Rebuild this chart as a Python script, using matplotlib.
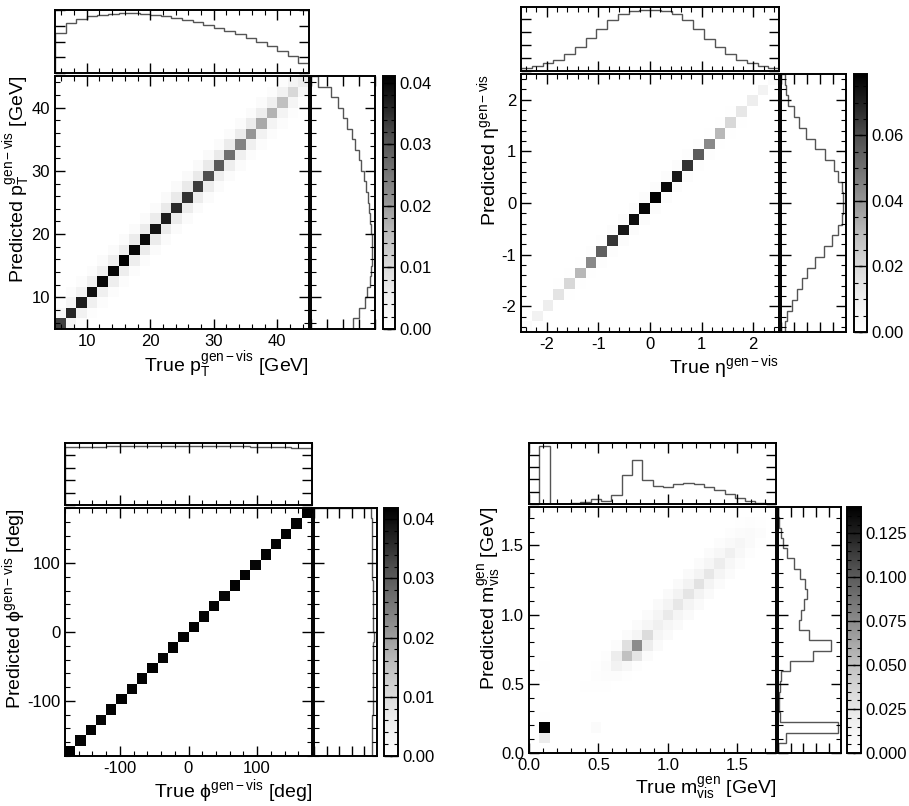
import numpy as np
import matplotlib
matplotlib.use('Agg')
import matplotlib.pyplot as plt
from matplotlib.ticker import AutoMinorLocator, MultipleLocator, MaxNLocator

plt.rcParams['font.family'] = ['Liberation Sans', 'DejaVu Sans']
plt.rcParams['mathtext.fontset'] = 'custom'
plt.rcParams['mathtext.rm'] = 'Liberation Sans'
plt.rcParams['mathtext.it'] = 'Liberation Sans'
plt.rcParams['mathtext.bf'] = 'Liberation Sans:bold'
plt.rcParams['axes.unicode_minus'] = False
plt.rcParams['axes.linewidth'] = 1.4

# ---------------- data ----------------
pt_edges = np.linspace(5, 45, 25)
eta_edges = np.linspace(-2.5, 2.5, 25)
phi_edges = np.linspace(-180, 180, 25)
m_edges = np.linspace(0, 1.777, 25)

# pT: 2D histogram bands (diagonal and neighbours)
pt_diag = [0.033, 0.0357, 0.0372, 0.0388, 0.0399, 0.0403, 0.0411, 0.0399, 0.0395, 0.0384, 0.037, 0.0354,
           0.0345, 0.0333, 0.0312, 0.0296, 0.0263, 0.0234, 0.0206, 0.0181, 0.0168, 0.0148, 0.0105, 0.0058]
pt_up1 = [0.003, 0.004, 0.0045, 0.005, 0.005, 0.0055, 0.0055, 0.006, 0.006, 0.006, 0.0065, 0.0065,
          0.0065, 0.0065, 0.0065, 0.0065, 0.006, 0.006, 0.006, 0.0055, 0.005, 0.0045, 0.004]
pt_dn1 = [0.004, 0.0045, 0.005, 0.005, 0.0055, 0.0055, 0.0055, 0.006, 0.006, 0.006, 0.006, 0.006,
          0.006, 0.006, 0.0055, 0.0055, 0.005, 0.005, 0.0045, 0.004, 0.004, 0.0035, 0.003]
pt_up2 = [0.0008, 0.001, 0.0012, 0.0012, 0.0014, 0.0014, 0.0015, 0.0015, 0.0016, 0.0016, 0.0017,
          0.0017, 0.0017, 0.0017, 0.0017, 0.0016, 0.0016, 0.0015, 0.0015, 0.0014, 0.0012, 0.001]
pt_dn2 = [0.0008, 0.0009, 0.001, 0.001, 0.0011, 0.0012, 0.0012, 0.0013, 0.0013, 0.0014, 0.0014,
          0.0014, 0.0014, 0.0014, 0.0013, 0.0013, 0.0012, 0.0012, 0.0011, 0.001, 0.0009, 0.0008]
pt_true_hist = [0.642, 0.797, 0.866, 0.909, 0.930, 0.947, 0.957, 0.957, 0.947, 0.930, 0.909, 0.882,
                0.850, 0.807, 0.770, 0.722, 0.668, 0.615, 0.556, 0.497, 0.428, 0.358, 0.278, 0.160]
pt_pred_hist = [0.66, 0.755, 0.84, 0.88, 0.92, 0.945, 0.955, 0.955, 0.95, 0.94, 0.93, 0.91,
                0.89, 0.86, 0.83, 0.79, 0.755, 0.69, 0.635, 0.56, 0.5, 0.43, 0.31, 0.115]

# eta
eta_diag = [0.003, 0.0085, 0.011, 0.015, 0.02, 0.031, 0.043, 0.055, 0.065, 0.072, 0.075, 0.077,
            0.0787, 0.076, 0.072, 0.066, 0.056, 0.043, 0.031, 0.02, 0.014, 0.011, 0.008, 0.003]
eta_up1 = [0.0, 0.0004, 0.0005, 0.0008, 0.001, 0.0012, 0.0015, 0.0018, 0.002, 0.002, 0.002, 0.0022,
           0.002, 0.002, 0.002, 0.0018, 0.0015, 0.0012, 0.001, 0.0008, 0.0005, 0.0004, 0.0]
eta_dn1 = [0.0, 0.0004, 0.0005, 0.0008, 0.001, 0.0012, 0.0015, 0.0017, 0.0019, 0.002, 0.002, 0.002,
           0.002, 0.002, 0.0019, 0.0017, 0.0015, 0.0012, 0.001, 0.0008, 0.0005, 0.0004, 0.0]
eta_true_hist = [0.05, 0.077, 0.118, 0.164, 0.256, 0.374, 0.50, 0.65, 0.78, 0.87, 0.92, 0.933,
                 0.933, 0.92, 0.87, 0.785, 0.65, 0.495, 0.374, 0.267, 0.164, 0.118, 0.077, 0.05]
eta_pred_hist = [0.066, 0.09, 0.168, 0.245, 0.32, 0.398, 0.526, 0.653, 0.78, 0.88, 0.93, 0.949,
                 0.949, 0.93, 0.88, 0.806, 0.679, 0.526, 0.383, 0.27, 0.194, 0.107, 0.082, 0.056]

# phi
phi_diag = [0.0419, 0.0412, 0.0414, 0.0410, 0.0413, 0.0415, 0.0411, 0.0414, 0.0416, 0.0412, 0.0415, 0.0413,
            0.0416, 0.0412, 0.0414, 0.0411, 0.0415, 0.0413, 0.0410, 0.0414, 0.0412, 0.0415, 0.0411, 0.0417]
phi_up1 = [0.0003, 0.0003, 0.0002, 0.0003, 0.0003, 0.0002, 0.0003, 0.0003, 0.0002, 0.0003, 0.0003, 0.0002,
           0.0003, 0.0003, 0.0002, 0.0003, 0.0003, 0.0002, 0.0003, 0.0003, 0.0002, 0.0003, 0.0003]
phi_dn1 = [0.0002, 0.0003, 0.0003, 0.0002, 0.0003, 0.0003, 0.0002, 0.0003, 0.0003, 0.0002, 0.0003, 0.0003,
           0.0002, 0.0003, 0.0003, 0.0002, 0.0003, 0.0003, 0.0002, 0.0003, 0.0003, 0.0002, 0.0003]
phi_true_hist = [0.93, 0.935, 0.94, 0.94, 0.945, 0.945, 0.948, 0.95, 0.95, 0.952, 0.952, 0.952,
                 0.952, 0.95, 0.95, 0.948, 0.945, 0.945, 0.94, 0.94, 0.935, 0.93, 0.925, 0.915]
phi_pred_hist = [0.915, 0.92, 0.925, 0.925, 0.93, 0.93, 0.935, 0.935, 0.935, 0.94, 0.94, 0.952,
                 0.94, 0.935, 0.935, 0.93, 0.93, 0.925, 0.925, 0.92, 0.92, 0.915, 0.915, 0.912]

# visible mass
m_diag = [0.0, 0.02, 0.0, 0.0, 0.0, 0.001, 0.002, 0.004, 0.015, 0.05, 0.075, 0.033,
          0.018, 0.022, 0.025, 0.026, 0.028, 0.025, 0.02, 0.017, 0.011, 0.006, 0.002, 0.0]
m_up1 = [0.0, 0.14, 0.0, 0.0, 0.0, 0.002, 0.003, 0.005, 0.02, 0.03, 0.012, 0.011,
         0.012, 0.013, 0.014, 0.014, 0.013, 0.011, 0.009, 0.007, 0.005, 0.003, 0.001]
m_dn1 = [0.0, 0.0, 0.0, 0.0, 0.0, 0.0, 0.002, 0.004, 0.01, 0.026, 0.02, 0.012,
         0.011, 0.012, 0.013, 0.014, 0.013, 0.012, 0.01, 0.008, 0.006, 0.004, 0.001]
m_up2 = [0.0, 0.0, 0.0, 0.0, 0.0, 0.001, 0.002, 0.003, 0.004, 0.005, 0.005, 0.005,
         0.006, 0.006, 0.006, 0.006, 0.005, 0.005, 0.004, 0.003, 0.002, 0.001]
m_dn2 = [0.0, 0.0, 0.0, 0.0, 0.0, 0.0, 0.001, 0.002, 0.003, 0.005, 0.006, 0.006,
         0.006, 0.006, 0.006, 0.006, 0.005, 0.005, 0.004, 0.003, 0.002, 0.001]
m_extra_x = [1, 1, 1, 1, 1, 6]
m_extra_y = [3, 4, 7, 8, 9, 2]
m_extra_val = [0.002, 0.001, 0.002, 0.002, 0.001, 0.005]
m_true_hist = [0.0, 0.945, 0.0, 0.0, 0.01, 0.027, 0.077, 0.055, 0.15, 0.467, 0.72, 0.395,
               0.286, 0.27, 0.324, 0.346, 0.33, 0.28, 0.225, 0.165, 0.104, 0.05, 0.022, 0.005]
m_pred_hist = [0.0, 0.12, 0.946, 0.03, 0.02, 0.02, 0.03, 0.05, 0.19, 0.557, 0.84, 0.486,
               0.324, 0.36, 0.416, 0.46, 0.43, 0.35, 0.254, 0.146, 0.08, 0.04, 0.01, 0.0]

# ---------------- helpers ----------------
W, H = 909, 806


def box(x0, y0, x1, y1):
    return [x0 / W, 1 - y1 / H, (x1 - x0) / W, (y1 - y0) / H]


def band(diag, up1, dn1, up2=None, dn2=None):
    m = np.diag(diag) + np.diag(up1, 1) + np.diag(dn1, -1)
    if up2 is not None:
        m = m + np.diag(up2, 2) + np.diag(dn2, -2)
    return m


def ticks(ax):
    ax.tick_params(which='both', direction='in', top=True, right=True,
                   bottom=True, left=True, labelsize=12)
    ax.tick_params(which='major', length=7, width=1)
    ax.tick_params(which='minor', length=3.5, width=0.8)


def panel(fig, px, edges, h2d, top_vals, right_vals, major, xlabel, ylabel):
    x0, y0, x1, y1, rx1, ty0, cx0, cx1 = px
    ax = fig.add_axes(box(x0, y0, x1, y1))
    axt = fig.add_axes(box(x0, ty0, x1, y0 - 3))
    axr = fig.add_axes(box(x1 + 2, y0, rx1, y1))
    cax = fig.add_axes(box(cx0, y0, cx1, y1))

    mesh = ax.pcolormesh(edges, edges, h2d.T, cmap='Greys', vmin=0, vmax=h2d.max())
    ax.set_xlim(edges[0], edges[-1])
    ax.set_ylim(edges[0], edges[-1])
    for a in (ax.xaxis, ax.yaxis):
        a.set_major_locator(MultipleLocator(major))
        a.set_minor_locator(AutoMinorLocator())
    ticks(ax)
    ax.set_xlabel(xlabel, fontsize=14, loc='right', labelpad=1)
    ax.set_ylabel(ylabel, fontsize=14, loc='top', labelpad=-1)

    axt.stairs(top_vals, edges, color='#555555', lw=1.0)
    axt.set_xlim(edges[0], edges[-1])
    axt.set_ylim(0, 1.05 * max(top_vals))
    axt.xaxis.set_major_locator(MultipleLocator(major))
    axt.xaxis.set_minor_locator(AutoMinorLocator())
    axt.yaxis.set_major_locator(MaxNLocator(5))
    ticks(axt)
    axt.tick_params(labelbottom=False, labelleft=False)

    axr.stairs(right_vals, edges, orientation='horizontal', color='#555555', lw=1.0)
    axr.set_ylim(edges[0], edges[-1])
    axr.set_xlim(0, 1.05 * max(right_vals))
    axr.yaxis.set_major_locator(MultipleLocator(major))
    axr.yaxis.set_minor_locator(AutoMinorLocator())
    axr.xaxis.set_major_locator(MaxNLocator(5))
    ticks(axr)
    axr.tick_params(labelbottom=False, labelleft=False)

    cb = fig.colorbar(mesh, cax=cax)
    cb.outline.set_linewidth(1.4)
    cb.locator = MaxNLocator(nbins=6, steps=[1, 2, 2.5, 5, 10])
    cb.update_ticks()
    cax.yaxis.set_minor_locator(AutoMinorLocator())
    cax.tick_params(which='both', direction='in', left=True, right=True, labelsize=12)
    cax.tick_params(which='major', length=6, width=1)
    cax.tick_params(which='minor', length=3, width=0.8)


# ---------------- figure ----------------
fig = plt.figure(figsize=(9.09, 8.06), dpi=100)

h_pt = band(pt_diag, pt_up1, pt_dn1, pt_up2, pt_dn2)
panel(fig, (55, 76, 309, 329, 375, 10, 383, 395), pt_edges, h_pt, pt_true_hist, pt_pred_hist, 10,
      r'True $\mathrm{p_{T}^{gen-vis}}$ [GeV]', r'Predicted $\mathrm{p_{T}^{gen-vis}}$ [GeV]')

h_eta = band(eta_diag, eta_up1, eta_dn1)
panel(fig, (521, 74, 779, 332, 846, 7, 854, 867), eta_edges, h_eta, eta_true_hist, eta_pred_hist, 1,
      r'True $\mathrm{\eta^{gen-vis}}$', r'Predicted $\mathrm{\eta^{gen-vis}}$')

h_phi = band(phi_diag, phi_up1, phi_dn1)
panel(fig, (65, 508, 312, 756, 377, 443, 384, 398), phi_edges, h_phi, phi_true_hist, phi_pred_hist, 100,
      r'True $\mathrm{\phi^{gen-vis}}$ [deg]', r'Predicted $\mathrm{\phi^{gen-vis}}$ [deg]')

h_m = band(m_diag, m_up1, m_dn1, m_up2, m_dn2)
h_m[m_extra_x, m_extra_y] += m_extra_val
panel(fig, (529, 507, 776, 753, 841, 443, 847, 861), m_edges, h_m, m_true_hist, m_pred_hist, 0.5,
      r'True $\mathrm{m_{vis}^{gen}}$ [GeV]', r'Predicted $\mathrm{m_{vis}^{gen}}$ [GeV]')

fig.savefig('out.png', dpi=100)
